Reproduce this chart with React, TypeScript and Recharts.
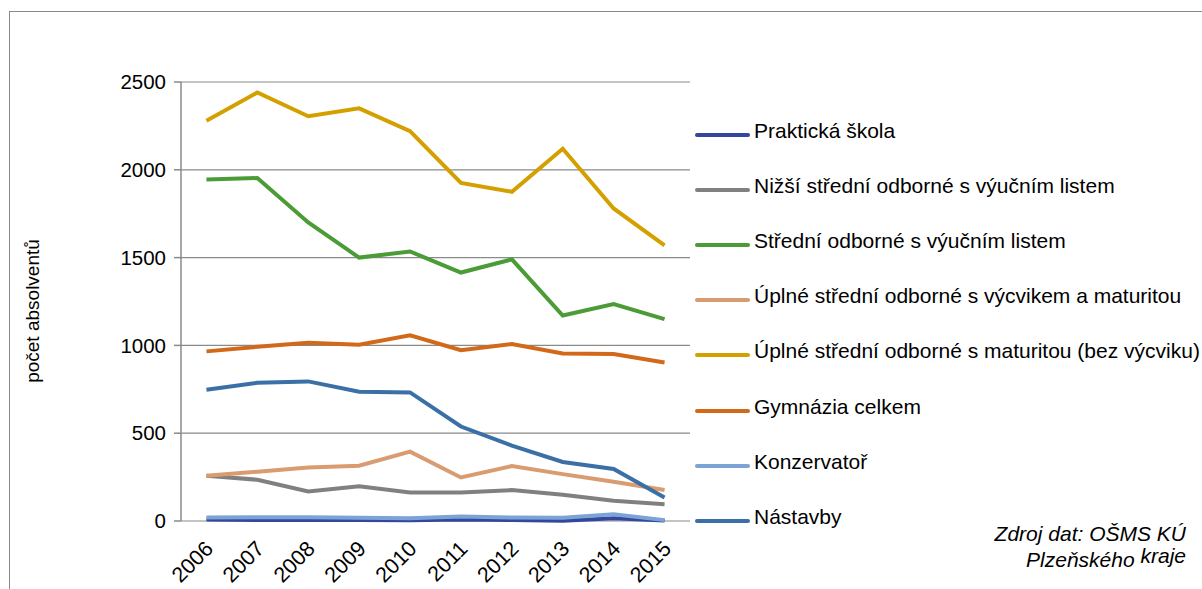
import React from 'react';
import { LineChart, Line, XAxis, YAxis, CartesianGrid, Legend } from 'recharts';

const FONT = '"Liberation Sans", Arial, Helvetica, sans-serif';

const years = ['2006', '2007', '2008', '2009', '2010', '2011', '2012', '2013', '2014', '2015'];

const praktickaSkola = [8, 5, 6, 5, 4, 8, 5, 2, 15, 3];
const nizsiStredni = [258, 235, 168, 198, 162, 162, 176, 149, 115, 95];
const stredniVyucni = [1945, 1953, 1700, 1500, 1535, 1415, 1490, 1170, 1235, 1150];
const uplneVycvik = [258, 281, 305, 315, 395, 248, 313, 267, 223, 176];
const uplneMaturita = [2280, 2440, 2305, 2350, 2220, 1925, 1875, 2120, 1780, 1570];
const gymnazia = [966, 992, 1015, 1004, 1057, 973, 1008, 954, 951, 903];
const konzervator = [20, 22, 22, 18, 15, 25, 20, 18, 38, 5];
const nastavby = [747, 787, 795, 736, 732, 538, 429, 336, 296, 134];

const seriesNames = [
  'Praktická škola',
  'Nižší střední odborné s výučním listem',
  'Střední odborné s výučním listem',
  'Úplné střední odborné s výcvikem a maturitou',
  'Úplné střední odborné s maturitou (bez výcviku)',
  'Gymnázia celkem',
  'Konzervatoř',
  'Nástavby',
];
const seriesColors = ['#33479c', '#808080', '#4b9c37', '#d99b70', '#d4a000', '#d2691a', '#7ca3d6', '#3a70a6'];
const seriesValues = [praktickaSkola, nizsiStredni, stredniVyucni, uplneVycvik, uplneMaturita, gymnazia, konzervator, nastavby];

const yTicks = [0, 500, 1000, 1500, 2000, 2500];
const boundaryTicks = [0, 1, 2, 3, 4, 5, 6, 7, 8, 9, 10];

const yAxisLabel = 'počet absolventů';
const sourceLine1 = 'Zdroj dat: OŠMS KÚ';
const sourceLine2a = 'Plzeňského';
const sourceLine2b = 'kraje';

const data = years.map((year, i) => {
  const row: Record<string, number | string> = { year, idx: i + 0.5 };
  seriesValues.forEach((vals, s) => {
    row['s' + s] = vals[i];
  });
  return row;
});

const AXIS = '#8a8a8a';

const YearTick = (props: any) => {
  const { x, y, payload } = props;
  return (
    <g transform={`translate(${x + 8},${y + 21}) rotate(-45)`}>
      <text x={0} y={0} textAnchor="end" fill="#000" fontSize={21.5} fontFamily={FONT}>
        {payload.value}
      </text>
    </g>
  );
};

const renderLegend = (props: any) => {
  const payload = [...(props.payload || [])].sort(
    (a: any, b: any) => seriesNames.indexOf(a.value) - seriesNames.indexOf(b.value)
  );
  return (
    <div style={{ position: 'relative', width: 510, height: 440, fontFamily: FONT, fontSize: 21 }}>
      {payload.map((entry: any, i: number) => (
        <div
          key={i}
          style={{ position: 'absolute', left: 0, top: i * 55.1, height: 24, lineHeight: '24px', whiteSpace: 'nowrap' }}
        >
          <span
            style={{ position: 'absolute', left: 0, top: 14, width: 55, height: 4, background: entry.color, borderRadius: 2 }}
          />
          <span style={{ position: 'absolute', left: 59, top: 0, color: '#000' }}>{entry.value}</span>
        </div>
      ))}
    </div>
  );
};

export default function App() {
  return (
    <div
      style={{
        position: 'fixed',
        left: 0,
        top: 0,
        width: 1202,
        height: 589,
        overflow: 'hidden',
        background: '#fff',
      }}
    >
      <div
        style={{
          position: 'absolute',
          left: 9,
          top: 11,
          width: 1400,
          height: 800,
          border: `1.5px solid ${AXIS}`,
          boxSizing: 'border-box',
        }}
      />
      <div style={{ position: 'absolute', left: 0, top: 0 }}>
        <LineChart
          width={1202}
          height={589}
          data={data}
          margin={{ top: 82, right: 512, bottom: 18, left: 121 }}
        >
          <CartesianGrid vertical={false} stroke={AXIS} strokeWidth={1.2} />
          <XAxis
            xAxisId="bnd"
            dataKey="idx"
            type="number"
            domain={[0, 10]}
            ticks={boundaryTicks}
            height={0}
            axisLine={{ stroke: AXIS, strokeWidth: 1.5 }}
            tickLine={{ stroke: AXIS, strokeWidth: 1.5 }}
            tickSize={7}
            tick={() => <g />}
            interval={0}
          />
          <XAxis
            xAxisId="cat"
            dataKey="year"
            height={50}
            axisLine={false}
            tickLine={false}
            interval={0}
            padding={{ left: 25.45, right: 25.45 }}
            tick={<YearTick />}
          />
          <YAxis
            domain={[0, 2500]}
            ticks={yTicks}
            width={60}
            axisLine={{ stroke: AXIS, strokeWidth: 1.5 }}
            tickLine={{ stroke: AXIS, strokeWidth: 1.5 }}
            tickSize={7}
            tickMargin={8}
            tick={{ fill: '#000', fontSize: 20.5, fontFamily: FONT }}
            interval={0}
          />
          <Legend
            layout="vertical"
            align="center"
            verticalAlign="middle"
            itemSorter={null as any}
            content={renderLegend}
            wrapperStyle={{ position: 'absolute', left: 695, top: 119, width: 510, height: 440 }}
          />
          {seriesNames.map((name, s) => (
            <Line
              key={name}
              xAxisId="cat"
              type="linear"
              dataKey={'s' + s}
              name={name}
              stroke={seriesColors[s]}
              strokeWidth={4}
              dot={false}
              activeDot={false}
              isAnimationActive={false}
            />
          ))}
        </LineChart>
      </div>
      <svg
        width={1202}
        height={589}
        style={{ position: 'absolute', left: 0, top: 0, pointerEvents: 'none' }}
      >
        <text
          transform="translate(39,311) rotate(-90)"
          textAnchor="middle"
          fontSize={19}
          fontFamily={FONT}
          fill="#000"
        >
          {yAxisLabel}
        </text>
        <text x={1186} y={541} textAnchor="end" fontSize={21} fontStyle="italic" fontFamily={FONT} fill="#000">
          {sourceLine1}
        </text>
        <text x={1186} y={567} textAnchor="end" fontSize={21} fontStyle="italic" fontFamily={FONT} fill="#000">
          <tspan>{sourceLine2a} </tspan>
          <tspan dy={-4}>{sourceLine2b}</tspan>
        </text>
      </svg>
    </div>
  );
}
